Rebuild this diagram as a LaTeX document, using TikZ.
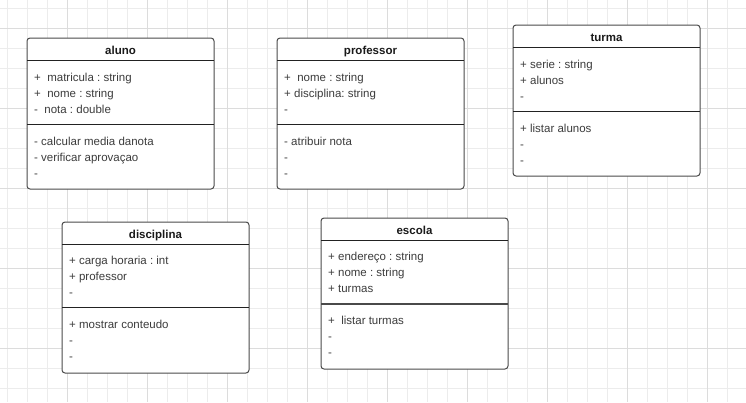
\documentclass[tikz,border=0pt]{standalone}
\usepackage{fontspec}
\setmainfont{Liberation Sans}
\frenchspacing
\definecolor{boxgray}{HTML}{4A4A4A}
\definecolor{linecol}{HTML}{222222}
\definecolor{titlecol}{HTML}{1A1A1A}
\definecolor{itemcol}{HTML}{3C3C3C}
\definecolor{minorgrid}{HTML}{ECECEC}
\definecolor{majorgrid}{HTML}{DCDCDC}
\newcommand{\umlbox}[4]{% name, left x, top y, title
  \node[classbox] (#1) at (#2+93.5,#3+75.5) {};
  \node[titletext] (#1-title) at ([yshift=-16pt]#1.north) {#4};
  \draw[divider] ([yshift=-22pt]#1.north west) -- ([yshift=-22pt]#1.north east);
}
\newcommand{\umlrows}[5]{% name, key, first offset, rows
  \foreach \txt [count=\i] in {#4} {
    \node[itemtext] (#1-#2\i) at ([xshift=7pt,yshift={-(#3+16*(\i-1))*1pt}]#1.north west) {\frenchspacing\txt};
  }
}
\begin{document}
\begin{tikzpicture}[x=1pt,y=-1pt,
  classbox/.style={draw=boxgray, line width=1pt, rounded corners=3pt, fill=white,
    minimum width=187pt, minimum height=151pt, inner sep=0pt, outer sep=0pt},
  titletext/.style={font=\fontsize{11.5}{13}\selectfont\bfseries, text=titlecol, inner sep=0pt, anchor=base},
  itemtext/.style={font=\fontsize{11.5}{13}\selectfont, text=itemcol, inner sep=0pt, anchor=base west},
  divider/.style={draw=linecol, line width=1pt},
  gridminor/.style={draw=minorgrid, line width=1pt},
  gridmajor/.style={draw=majorgrid, line width=1pt}]
\useasboundingbox (0,0) rectangle (746,402);
\fill[white] (0,0) rectangle (746,402);
% grid
\foreach \x in {7,27,...,727} \draw[gridminor] (\x,0) -- (\x,402);
\foreach \y in {8,28,...,388} \draw[gridminor] (0,\y) -- (746,\y);
\foreach \x in {67,147,...,707} \draw[gridmajor] (\x,0) -- (\x,402);
\foreach \y in {28,108,...,348} \draw[gridmajor] (0,\y) -- (746,\y);

% aluno
\umlbox{aluno}{27}{38}{aluno}
\draw[divider] ([yshift=-86pt]aluno.north west) -- ([yshift=-86pt]aluno.north east);
\umlrows{aluno}{a}{43}{{+\ \ matricula : string},{+\ \ nome : string},{-\ \ nota : double}}{}
\umlrows{aluno}{m}{107}{{- calcular media danota},{- verificar aprovaçao},{-}}{}

% professor
\umlbox{professor}{277}{38}{professor}
\draw[divider] ([yshift=-86pt]professor.north west) -- ([yshift=-86pt]professor.north east);
\umlrows{professor}{a}{43}{{+\ \ nome : string},{+ disciplina: string},{-}}{}
\umlrows{professor}{m}{107}{{- atribuir nota},{-},{-}}{}

% turma
\umlbox{turma}{513}{25}{turma}
\draw[divider] ([yshift=-86pt]turma.north west) -- ([yshift=-86pt]turma.north east);
\umlrows{turma}{a}{43}{{+ serie : string},{+ alunos},{-}}{}
\umlrows{turma}{m}{107}{{+ listar alunos},{-},{-}}{}

% disciplina
\umlbox{disciplina}{62}{222}{disciplina}
\draw[divider] ([yshift=-85pt]disciplina.north west) -- ([yshift=-85pt]disciplina.north east);
\umlrows{disciplina}{a}{42}{{+ carga horaria : int},{+ professor},{-}}{}
\umlrows{disciplina}{m}{106}{{+ mostrar conteudo},{-},{-}}{}

% escola
\umlbox{escola}{321}{218}{escola}
\draw[divider, draw=boxgray, line width=1.6pt] ([yshift=-86pt]escola.north west) -- ([yshift=-86pt]escola.north east);
\umlrows{escola}{a}{42}{{+ endereço : string},{+ nome : string},{+ turmas}}{}
\umlrows{escola}{m}{106}{{+\ \ listar turmas},{-},{-}}{}
\end{tikzpicture}
\end{document}
